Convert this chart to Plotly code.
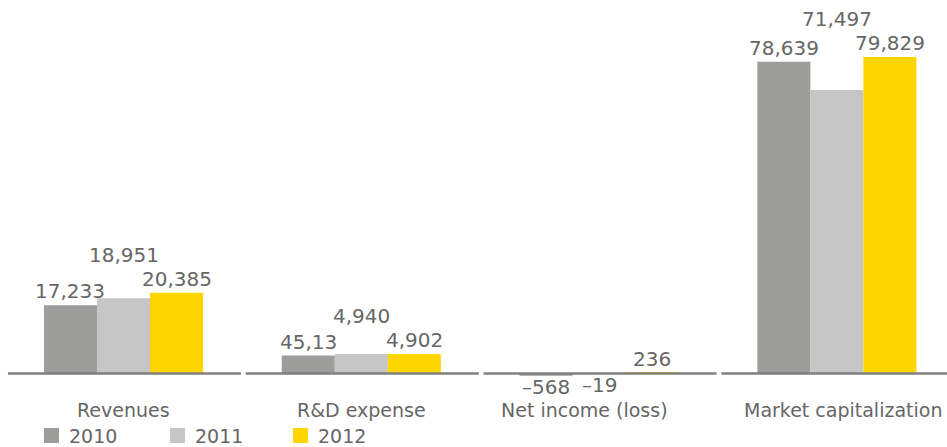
import plotly.graph_objects as go

# Figures in US$ millions, by fiscal year
categories = ["Revenues", "R&D expense", "Net income (loss)", "Market capitalization"]
years = ["2010", "2011", "2012"]
values_2010 = [17233, 4513, -568, 78639]
values_2011 = [18951, 4940, -19, 71497]
values_2012 = [20385, 4902, 236, 79829]
labels_2010 = ["17,233", "45,13", "\u2013568", "78,639"]
labels_2011 = ["18,951", "4,940", "\u201319", "71,497"]
labels_2012 = ["20,385", "4,902", "236", "79,829"]

series_values = [values_2010, values_2011, values_2012]
series_labels = [labels_2010, labels_2011, labels_2012]
colors = ["#9d9d9c", "#c6c6c6", "#ffd500"]
text_color = "#666666"
font_family = "DejaVu Sans"

W, H = 947, 447
x_pos = list(range(len(categories)))
group_width = 0.669
bar_w = group_width / 3

fig = go.Figure()
for yr, vals, col in zip(years, series_values, colors):
    fig.add_trace(go.Bar(x=x_pos, y=vals, name=yr, marker=dict(color=col, line=dict(width=0)),
                         hoverinfo="skip"))

annotations = []
# value labels: middle year sits above the tallest bar of its group
for s, (vals, labs) in enumerate(zip(series_values, series_labels)):
    for k, (v, lab) in enumerate(zip(vals, labs)):
        xc = k + (s - 1) * bar_w
        if v < 0:
            y, shift = v, -11
        elif s == 1:
            y, shift = max(sv[k] for sv in series_values), 38
        else:
            y, shift = v, 14
        annotations.append(dict(x=xc, y=y, xref="x", yref="y", text=lab, showarrow=False,
                                yshift=shift, yanchor="middle", xanchor="center",
                                borderpad=0,
                                font=dict(size=20, color=text_color, family=font_family)))

# category names under each group
cat_shift = [0, 0, -15, 6]
for k, name in enumerate(categories):
    annotations.append(dict(x=k, y=1 - 410 / H, xref="x", yref="paper", text=name,
                            showarrow=False, xshift=cat_shift[k], yanchor="middle",
                            xanchor="center", borderpad=0,
                            font=dict(size=19, color=text_color, family=font_family)))

shapes = []
# baseline segments, one per group
for k in x_pos:
    x1 = k + 0.494 if k < len(categories) - 1 else 3.47
    shapes.append(dict(type="line", xref="x", yref="y", x0=k - 0.486, x1=x1, y0=0, y1=0,
                       line=dict(color="#808080", width=2.5), layer="above"))

# key for the three years
key_x = [44, 170, 293]
for yr, col, kx in zip(years, colors, key_x):
    shapes.append(dict(type="rect", xref="paper", yref="paper",
                       x0=kx / W, x1=(kx + 15) / W, y0=1 - 443 / H, y1=1 - 428 / H,
                       fillcolor=col, line=dict(width=0)))
    annotations.append(dict(x=(kx + 23) / W, y=1 - 435.5 / H, xref="paper", yref="paper",
                            text=yr, showarrow=False, xanchor="left", yanchor="middle",
                            font=dict(size=19, color=text_color, family=font_family)))

px_per_unit = 316.5 / 79829
zero_px = 373.5
fig.update_layout(
    width=W, height=H,
    margin=dict(l=0, r=0, t=0, b=0),
    paper_bgcolor="white", plot_bgcolor="white",
    barmode="group", bargap=1 - group_width, bargroupgap=0,
    showlegend=False,
    xaxis=dict(range=[-123.5 / 237.8, (W - 123.5) / 237.8], visible=False, fixedrange=True),
    yaxis=dict(range=[-(H - zero_px) / px_per_unit, zero_px / px_per_unit], visible=False,
               fixedrange=True),
    annotations=annotations,
    shapes=shapes,
)

fig.write_html("out.html")
